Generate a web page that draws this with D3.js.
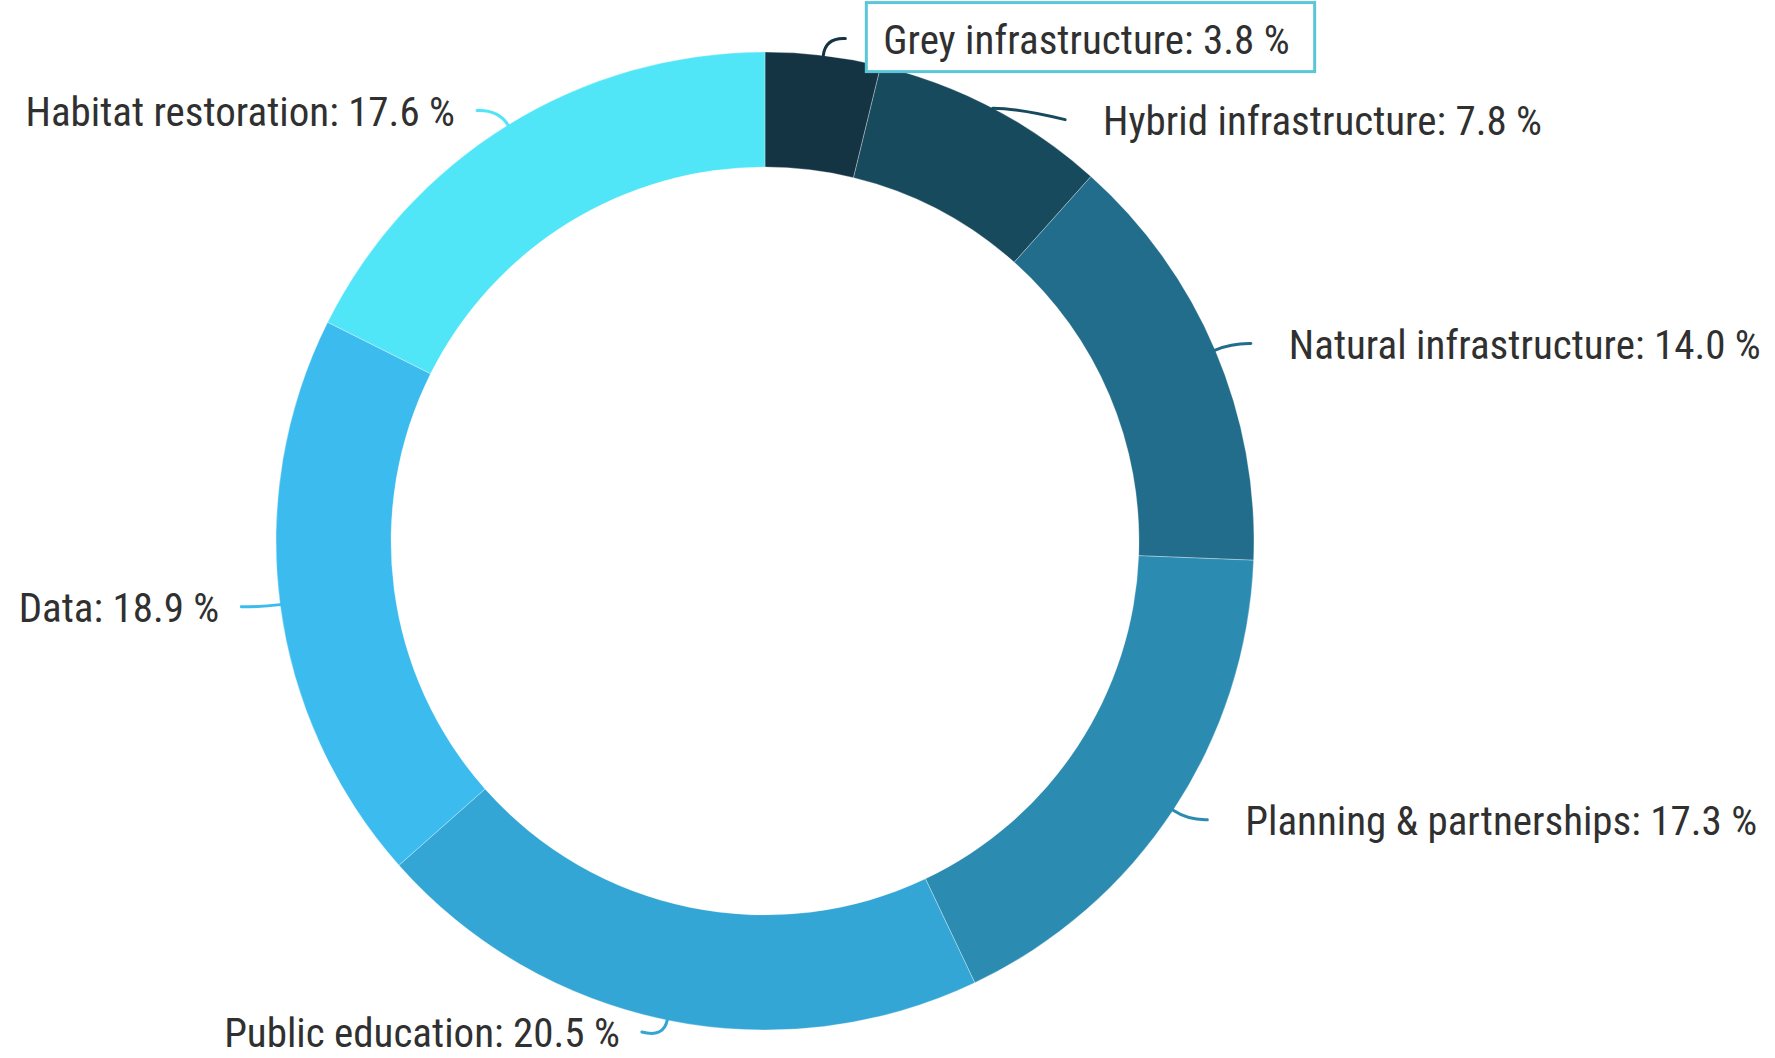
<!DOCTYPE html>
<html><head><meta charset="utf-8">
<script src="https://cdn.jsdelivr.net/npm/d3@7/dist/d3.min.js"></script>
<style>
html,body{margin:0;padding:0;background:#fff;}
svg{display:block;}
</style></head>
<body>
<svg id="chart" width="1775" height="1058"></svg>
<script>
const categories = ["Grey infrastructure","Hybrid infrastructure","Natural infrastructure","Planning & partnerships","Public education","Data","Habitat restoration"];
const values = [3.8, 7.8, 14.0, 17.3, 20.5, 18.9, 17.6];
const colors = ["#143444","#174a5c","#226d8b","#2b8bb1","#34a6d5","#3cbbef","#50e5f7"];
const highlighted = "Grey infrastructure";

const W = 1775, H = 1058;
const cx = 765, cy = 541, R = 489, r = 374, RL = 506;
const svg = d3.select("#chart");
const g = svg.append("g").attr("transform", `translate(${cx},${cy})`);

const data = categories.map((c,i)=>({cat:c, value:values[i], color:colors[i]}));
const pie = d3.pie().value(d=>d.value).sort(null);
const arcs = pie(data);
const arc = d3.arc().innerRadius(r).outerRadius(R);

g.selectAll("path.slice").data(arcs).enter().append("path")
  .attr("class","slice")
  .attr("d", arc)
  .attr("fill", d=>d.data.color)
  .attr("stroke","#ffffff").attr("stroke-opacity",0.3).attr("stroke-width",1);

// label layout
const labels = arcs.map(a=>{
  const mid = (a.startAngle + a.endAngle)/2;
  const side = Math.sin(mid) >= 0 ? 1 : -1;
  return {a, mid, side, y: -RL*Math.cos(mid), px: RL*Math.sin(mid), adjusted:false};
});
const minGap = 81;
[1,-1].forEach(s=>{
  const L = labels.filter(l=>l.side===s).sort((p,q)=>p.y-q.y);
  for(let i=1;i<L.length;i++){
    if(L[i].y < L[i-1].y + minGap){
      L[i].y = L[i-1].y + minGap;
      L[i].px = s*Math.sqrt(Math.max(0, RL*RL - L[i].y*L[i].y));
      L[i].adjusted = true;
    }
  }
});
// keep labels inside the drawing area
const maxY = H - cy - 26;
labels.forEach(l=>{ if(l.y > maxY){ l.y = maxY; } });

const fontSize = 41;
labels.forEach(l=>{
  const sx = R*Math.sin(l.mid), sy = -R*Math.cos(l.mid);
  const ex = l.px + (l.side>0 ? 20 : -22);
  const ey = l.y;
  const ctrlR = R + 18;
  let qx = ctrlR*Math.sin(l.mid), qy = ctrlR*Math.cos(l.mid)*-1;
  if(l.adjusted){ qx = sx + (ex-sx)*0.35; qy = sy; }
  const p = d3.path();
  p.moveTo(sx, sy);
  p.quadraticCurveTo(qx, qy, ex, ey);
  g.append("path").attr("d", p.toString())
    .attr("fill","none").attr("stroke", l.a.data.color)
    .attr("stroke-width",3).attr("stroke-linecap","round");

  const tx = l.side>0 ? l.px + 58 : l.px - 44;
  const t = g.append("text")
    .attr("x", tx).attr("y", l.y + 42*0.716/2)
    .attr("text-anchor", l.side>0 ? "start" : "end")
    .attr("font-family", "'Liberation Sans Narrow','Arial Narrow','Roboto Condensed','Liberation Sans',sans-serif")
    .attr("font-size", fontSize)
    .attr("fill", "#303030")
    .text(`${l.a.data.cat}: ${l.a.data.value.toFixed(1)} %`);
  if(l.a.data.cat === highlighted){
    const bb = t.node().getBBox();
    g.insert("rect","text")
      .attr("x", bb.x - 17).attr("y", l.y - 36)
      .attr("width", bb.width + 42).attr("height", 69)
      .attr("fill","#fff").attr("stroke","#5ac6d8").attr("stroke-width",3);
  }
});
</script>
</body></html>
